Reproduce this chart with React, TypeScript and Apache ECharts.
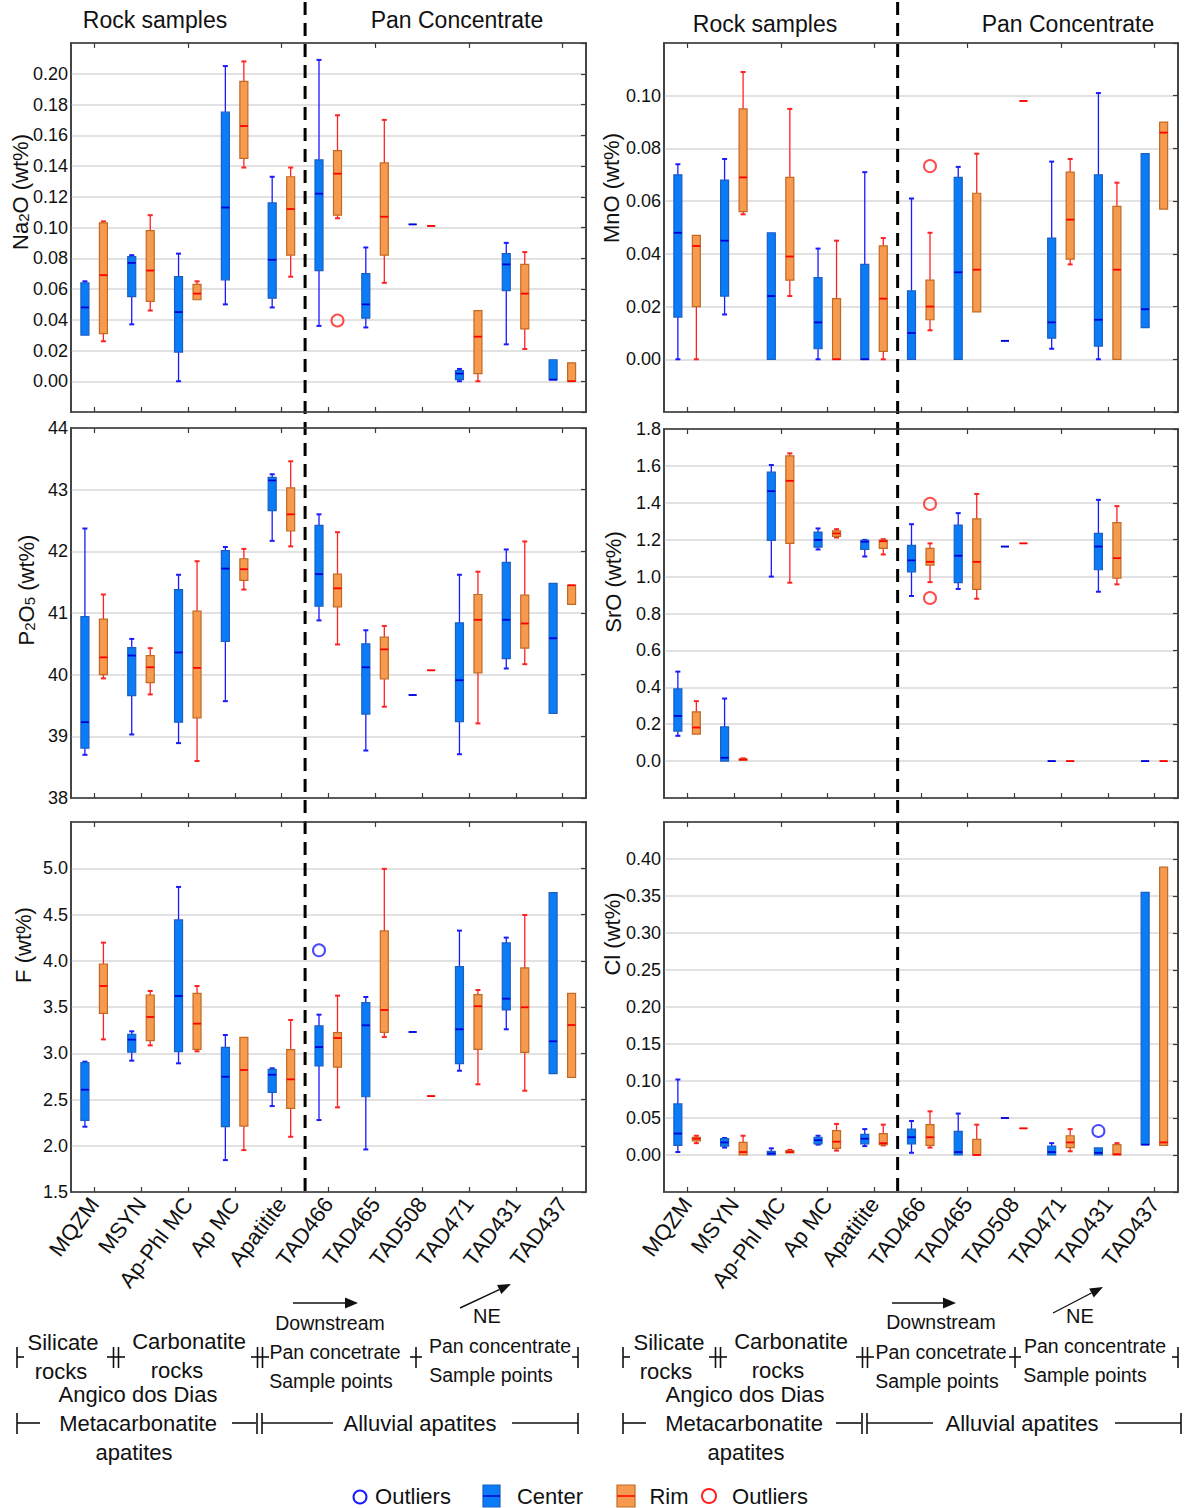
import React, { useEffect, useRef } from "react";
import * as echarts from "echarts";

const FONT = "'Liberation Sans', Arial, Helvetica, sans-serif";

const categories = ["MQZM", "MSYN", "Ap-Phl MC", "Ap MC", "Apatitite", "TAD466", "TAD465", "TAD508", "TAD471", "TAD431", "TAD437"];

// each entry: [min, Q1, median, Q3, max]
const na2oCenter = [
  [0.030, 0.030, 0.048, 0.064, 0.065], [0.037, 0.055, 0.077, 0.081, 0.082], [0.000, 0.019, 0.045, 0.068, 0.083],
  [0.050, 0.066, 0.113, 0.175, 0.205], [0.048, 0.054, 0.079, 0.116, 0.133], [0.036, 0.072, 0.122, 0.144, 0.209],
  [0.035, 0.041, 0.050, 0.070, 0.087], [0.102, 0.102, 0.102, 0.102, 0.102], [0.000, 0.001, 0.005, 0.007, 0.008],
  [0.024, 0.059, 0.076, 0.083, 0.090], [0.001, 0.001, 0.001, 0.014, 0.014],
];
const na2oRim = [
  [0.026, 0.031, 0.069, 0.103, 0.104], [0.046, 0.052, 0.072, 0.098, 0.108], [0.053, 0.053, 0.057, 0.063, 0.065],
  [0.139, 0.145, 0.166, 0.195, 0.208], [0.068, 0.082, 0.112, 0.133, 0.139], [0.106, 0.108, 0.135, 0.150, 0.173],
  [0.064, 0.082, 0.107, 0.142, 0.170], [0.101, 0.101, 0.101, 0.101, 0.101], [0.000, 0.005, 0.029, 0.046, 0.046],
  [0.021, 0.034, 0.057, 0.076, 0.084], [0.000, 0.000, 0.000, 0.012, 0.012],
];
const na2oCenterOutliers: [string, number][] = [];
const na2oRimOutliers: [string, number][] = [["TAD466", 0.0395]];

const mnoCenter = [
  [0.000, 0.016, 0.048, 0.070, 0.074], [0.017, 0.024, 0.045, 0.068, 0.076], [0.000, 0.000, 0.024, 0.048, 0.048],
  [0.000, 0.004, 0.014, 0.031, 0.042], [0.000, 0.000, 0.000, 0.036, 0.071], [0.000, 0.000, 0.010, 0.026, 0.061],
  [0.000, 0.000, 0.033, 0.069, 0.073], [0.007, 0.007, 0.007, 0.007, 0.007], [0.004, 0.008, 0.014, 0.046, 0.075],
  [0.000, 0.005, 0.015, 0.070, 0.101], [0.012, 0.012, 0.019, 0.078, 0.078],
];
const mnoRim = [
  [0.000, 0.020, 0.043, 0.047, 0.047], [0.055, 0.056, 0.069, 0.095, 0.109], [0.024, 0.030, 0.039, 0.069, 0.095],
  [0.000, 0.000, 0.000, 0.023, 0.045], [0.000, 0.003, 0.023, 0.043, 0.046], [0.011, 0.015, 0.020, 0.030, 0.048],
  [0.018, 0.018, 0.034, 0.063, 0.078], [0.098, 0.098, 0.098, 0.098, 0.098], [0.036, 0.038, 0.053, 0.071, 0.076],
  [0.000, 0.000, 0.034, 0.058, 0.067], [0.057, 0.057, 0.086, 0.090, 0.090],
];
const mnoCenterOutliers: [string, number][] = [];
const mnoRimOutliers: [string, number][] = [["TAD466", 0.0733]];

const p2o5Center = [
  [38.70, 38.81, 39.23, 40.94, 42.37], [39.03, 39.66, 40.31, 40.44, 40.58], [38.89, 39.23, 40.36, 41.38, 41.62],
  [39.57, 40.54, 41.72, 42.01, 42.07], [42.17, 42.66, 43.15, 43.20, 43.25], [40.88, 41.11, 41.63, 42.42, 42.60],
  [38.77, 39.36, 40.12, 40.50, 40.72], [39.67, 39.67, 39.67, 39.67, 39.67], [38.71, 39.24, 39.91, 40.84, 41.62],
  [40.10, 40.26, 40.89, 41.82, 42.03], [39.37, 39.37, 40.59, 41.48, 41.48],
];
const p2o5Rim = [
  [39.94, 40.00, 40.28, 40.90, 41.30], [39.68, 39.87, 40.12, 40.31, 40.43], [38.60, 39.30, 40.11, 41.03, 41.84],
  [41.38, 41.53, 41.71, 41.88, 42.04], [42.08, 42.33, 42.60, 43.03, 43.46], [40.49, 41.10, 41.40, 41.63, 42.31],
  [39.48, 39.93, 40.41, 40.61, 40.79], [40.07, 40.07, 40.07, 40.07, 40.07], [39.21, 40.03, 40.89, 41.30, 41.67],
  [40.17, 40.43, 40.83, 41.29, 42.16], [41.14, 41.14, 41.45, 41.45, 41.45],
];
const p2o5CenterOutliers: [string, number][] = [];
const p2o5RimOutliers: [string, number][] = [];

const sroCenter = [
  [0.137, 0.162, 0.245, 0.391, 0.485], [0.000, 0.000, 0.018, 0.186, 0.339], [1.000, 1.196, 1.463, 1.566, 1.605],
  [1.147, 1.160, 1.199, 1.241, 1.261], [1.109, 1.147, 1.189, 1.196, 1.199], [0.895, 1.025, 1.088, 1.169, 1.284],
  [0.933, 0.967, 1.113, 1.279, 1.344], [1.163, 1.163, 1.163, 1.163, 1.163], [0.000, 0.000, 0.000, 0.000, 0.000],
  [0.918, 1.037, 1.163, 1.234, 1.416], [0.000, 0.000, 0.000, 0.000, 0.000],
];
const sroRim = [
  [0.146, 0.146, 0.182, 0.267, 0.325], [0.003, 0.005, 0.008, 0.012, 0.015], [0.967, 1.180, 1.519, 1.654, 1.668],
  [1.212, 1.218, 1.234, 1.248, 1.257], [1.120, 1.153, 1.192, 1.198, 1.203], [0.970, 1.062, 1.080, 1.153, 1.180],
  [0.880, 0.931, 1.080, 1.313, 1.448], [1.180, 1.180, 1.180, 1.180, 1.180], [0.000, 0.000, 0.000, 0.000, 0.000],
  [0.958, 0.992, 1.100, 1.293, 1.382], [0.000, 0.000, 0.000, 0.000, 0.000],
];
const sroCenterOutliers: [string, number][] = [];
const sroRimOutliers: [string, number][] = [["TAD466", 1.394], ["TAD466", 0.884]];

const fCenter = [
  [2.206, 2.274, 2.606, 2.898, 2.909], [2.920, 3.013, 3.147, 3.204, 3.237], [2.891, 3.017, 3.619, 4.441, 4.798],
  [1.845, 2.206, 2.746, 3.064, 3.197], [2.429, 2.577, 2.768, 2.826, 2.837], [2.278, 2.862, 3.067, 3.295, 3.417],
  [1.960, 2.530, 3.302, 3.547, 3.608], [3.230, 3.230, 3.230, 3.230, 3.230], [2.811, 2.887, 3.259, 3.937, 4.326],
  [3.259, 3.468, 3.590, 4.193, 4.250], [2.779, 2.779, 3.129, 4.737, 4.737],
];
const fRim = [
  [3.150, 3.432, 3.727, 3.965, 4.196], [3.085, 3.136, 3.392, 3.630, 3.673], [3.021, 3.042, 3.320, 3.648, 3.727],
  [1.953, 2.213, 2.819, 3.172, 3.172], [2.097, 2.404, 2.718, 3.039, 3.360], [2.415, 2.851, 3.165, 3.222, 3.623],
  [3.176, 3.226, 3.468, 4.322, 4.993], [2.537, 2.537, 2.537, 2.537, 2.537], [2.664, 3.042, 3.508, 3.634, 3.684],
  [2.595, 3.010, 3.497, 3.922, 4.495], [2.739, 2.739, 3.305, 3.648, 3.648],
];
const fCenterOutliers: [string, number][] = [["TAD466", 4.113]];
const fRimOutliers: [string, number][] = [];

const clCenter = [
  [0.004, 0.013, 0.029, 0.069, 0.102], [0.010, 0.012, 0.017, 0.022, 0.023], [0.000, 0.000, 0.002, 0.005, 0.009],
  [0.014, 0.015, 0.020, 0.024, 0.026], [0.012, 0.015, 0.022, 0.028, 0.035], [0.003, 0.015, 0.024, 0.035, 0.046],
  [0.000, 0.000, 0.004, 0.032, 0.056], [0.050, 0.050, 0.050, 0.050, 0.050], [0.000, 0.000, 0.004, 0.012, 0.016],
  [0.000, 0.000, 0.003, 0.0095, 0.0095], [0.014, 0.014, 0.014, 0.355, 0.355],
];
const clRim = [
  [0.016, 0.019, 0.022, 0.024, 0.026], [0.000, 0.000, 0.004, 0.017, 0.026], [0.003, 0.003, 0.004, 0.006, 0.007],
  [0.006, 0.009, 0.018, 0.033, 0.042], [0.013, 0.014, 0.016, 0.029, 0.041], [0.010, 0.013, 0.024, 0.041, 0.059],
  [0.000, 0.000, 0.000, 0.021, 0.041], [0.036, 0.036, 0.036, 0.036, 0.036], [0.005, 0.010, 0.017, 0.026, 0.035],
  [0.000, 0.000, 0.001, 0.014, 0.016], [0.013, 0.013, 0.017, 0.389, 0.389],
];
const clCenterOutliers: [string, number][] = [["TAD431", 0.0325]];
const clRimOutliers: [string, number][] = [];

// y-axis: [min, max, step, first labelled, last labelled, decimals]
const na2oTicks = [-0.02, 0.22, 0.02, 0.0, 0.2, 2];
const mnoTicks = [-0.02, 0.12, 0.02, 0.0, 0.1, 2];
const p2o5Ticks = [38, 44, 1, 38, 44, 0];
const sroTicks = [-0.2, 1.8, 0.2, 0.0, 1.8, 1];
const fTicks = [1.5, 5.5, 0.5, 1.5, 5.0, 1];
const clTicks = [-0.05, 0.45, 0.05, 0.0, 0.4, 2];

const BLUE_FILL = "#0a7cf5";
const BLUE_BORDER = "#1c5fc4";
const BLUE_LINE = "#1a1aff";
const ORANGE_FILL = "#f59a4e";
const ORANGE_BORDER = "#c26a22";
const RED_LINE = "#ff2222";
const TEXT = "#111111";

function boxRenderer(offset: number, fill: string, border: string, whisker: string, median: string) {
  return function (_params: any, api: any) {
    const c = api.value(0);
    const lo = api.coord([c, api.value(1)]);
    const q1 = api.coord([c, api.value(2)]);
    const md = api.coord([c, api.value(3)]);
    const q3 = api.coord([c, api.value(4)]);
    const hi = api.coord([c, api.value(5)]);
    const x = lo[0] + offset;
    const w = 8;
    const cap = 2.5;
    const ws = { stroke: whisker, lineWidth: 1.3 };
    const children: any[] = [];
    if (hi[1] < q3[1] - 0.5) {
      children.push({ type: "line", shape: { x1: x, y1: hi[1], x2: x, y2: q3[1] }, style: ws });
      children.push({ type: "line", shape: { x1: x - cap, y1: hi[1], x2: x + cap, y2: hi[1] }, style: { stroke: whisker, lineWidth: 2 } });
    }
    if (lo[1] > q1[1] + 0.5) {
      children.push({ type: "line", shape: { x1: x, y1: q1[1], x2: x, y2: lo[1] }, style: ws });
      children.push({ type: "line", shape: { x1: x - cap, y1: lo[1], x2: x + cap, y2: lo[1] }, style: { stroke: whisker, lineWidth: 2 } });
    }
    children.push({
      type: "rect",
      shape: { x: x - w / 2, y: q3[1], width: w, height: Math.max(q1[1] - q3[1], 0) },
      style: { fill, stroke: border, lineWidth: 1.2 },
    });
    children.push({ type: "line", shape: { x1: x - w / 2, y1: md[1], x2: x + w / 2, y2: md[1] }, style: { stroke: median, lineWidth: 1.8 } });
    return { type: "group", children };
  };
}

const panels = [
  { grid: { left: 71, top: 43, width: 515, height: 369 }, ticks: na2oTicks, center: na2oCenter, rim: na2oRim, cOut: na2oCenterOutliers, rOut: na2oRimOutliers, labels: false },
  { grid: { left: 664, top: 43, width: 514, height: 369 }, ticks: mnoTicks, center: mnoCenter, rim: mnoRim, cOut: mnoCenterOutliers, rOut: mnoRimOutliers, labels: false },
  { grid: { left: 71, top: 428, width: 515, height: 370 }, ticks: p2o5Ticks, center: p2o5Center, rim: p2o5Rim, cOut: p2o5CenterOutliers, rOut: p2o5RimOutliers, labels: false },
  { grid: { left: 664, top: 429, width: 514, height: 369 }, ticks: sroTicks, center: sroCenter, rim: sroRim, cOut: sroCenterOutliers, rOut: sroRimOutliers, labels: false },
  { grid: { left: 71, top: 822, width: 515, height: 370 }, ticks: fTicks, center: fCenter, rim: fRim, cOut: fCenterOutliers, rOut: fRimOutliers, labels: true },
  { grid: { left: 664, top: 822, width: 514, height: 370 }, ticks: clTicks, center: clCenter, rim: clRim, cOut: clCenterOutliers, rOut: clRimOutliers, labels: true },
];

function txt(x: number, y: number, text: string, size = 22, extra: any = {}) {
  return {
    type: "text",
    x,
    y,
    silent: true,
    ...extra,
    style: {
      text,
      fill: TEXT,
      fontSize: size,
      fontFamily: FONT,
      align: "center",
      verticalAlign: "middle",
      textAlign: "center",
      textVerticalAlign: "middle",
      ...(extra.style || {}),
    },
  };
}
function ln(x1: number, y1: number, x2: number, y2: number, w = 1.6) {
  return { type: "line", silent: true, shape: { x1, y1, x2, y2 }, style: { stroke: TEXT, lineWidth: w } };
}
function poly(points: number[][]) {
  return { type: "polygon", silent: true, shape: { points }, style: { fill: TEXT } };
}
function dbl(x: number, y: number) {
  return [ln(x - 2.5, y - 10, x - 2.5, y + 11), ln(x + 2.5, y - 10, x + 2.5, y + 11), ln(x - 9, y, x + 9, y)];
}

const SUB_RICH = { s: { fontSize: 15, fontFamily: FONT, fill: TEXT, verticalAlign: "bottom", lineHeight: 15 } };

function buildGraphics(xL: number, xR: number) {
  const g: any[] = [];
  g.push({ type: "line", silent: true, shape: { x1: xL, y1: 2, x2: xL, y2: 1192 }, style: { stroke: "#000", lineWidth: 3, lineDash: [13, 8] } });
  g.push({ type: "line", silent: true, shape: { x1: xR, y1: 2, x2: xR, y2: 1192 }, style: { stroke: "#000", lineWidth: 3, lineDash: [13, 8] } });
  g.push(txt(155, 20, "Rock samples", 23), txt(457, 20, "Pan Concentrate", 23), txt(765, 24, "Rock samples", 23), txt(1068, 24, "Pan Concentrate", 23));
  const rot = { rotation: Math.PI / 2 };
  g.push(txt(20, 192, "Na{s|2}O (wt%)", 22, { ...rot, style: { rich: SUB_RICH } }));
  g.push(txt(611, 188, "MnO (wt%)", 22, rot));
  g.push(txt(26, 590, "P{s|2}O{s|5} (wt%)", 22, { ...rot, style: { rich: SUB_RICH } }));
  g.push(txt(613, 582, "SrO (wt%)", 22, rot));
  g.push(txt(23, 945, "F (wt%)", 22, rot));
  g.push(txt(612, 934, "Cl (wt%)", 22, rot));

  const block = (p: any) => {
    g.push(ln(p.ds[0], 1303, p.ds[1] - 8, 1303, 1.6));
    g.push(poly([[p.ds[1], 1303], [p.ds[1] - 13, 1297.5], [p.ds[1] - 13, 1308.5]]));
    g.push(txt(p.dsT[0], p.dsT[1], "Downstream", 19.5));
    const [ax1, ay1, ax2, ay2] = p.ne;
    const ang = Math.atan2(ay2 - ay1, ax2 - ax1);
    const bx = ax2 - 13 * Math.cos(ang), by = ay2 - 13 * Math.sin(ang);
    g.push(ln(ax1, ay1, bx, by, 1.4));
    g.push(poly([[ax2, ay2], [bx + 5 * Math.sin(ang), by - 5 * Math.cos(ang)], [bx - 5 * Math.sin(ang), by + 5 * Math.cos(ang)]]));
    g.push(txt(p.neT[0], p.neT[1], "NE", 20));
    const y1 = 1357;
    g.push(ln(p.l, y1 - 10, p.l, y1 + 11), ln(p.l, y1, p.l + 7, y1));
    g.push(txt(p.sil[0], 1342, "Silicate"), txt(p.sil[1], 1371, "rocks"));
    g.push(...dbl(p.d1, y1));
    g.push(txt(p.carb[0], 1341, "Carbonatite"), txt(p.carb[1], 1370, "rocks"));
    g.push(...dbl(p.d2, y1));
    g.push(txt(p.pc1[0], 1352, "Pan concetrate", 19.5), txt(p.pc1[1], 1381, "Sample points", 19.5));
    g.push(ln(p.plus, y1 - 10, p.plus, y1 + 11), ln(p.plus - 6, y1, p.plus + 6, y1));
    g.push(txt(p.pc2[0], 1346, "Pan concentrate", 19.5), txt(p.pc2[1], 1375, "Sample points", 19.5));
    g.push(ln(p.r, y1 - 10, p.r, y1 + 11), ln(p.r - 6, y1, p.r, y1));
    const y2 = 1423;
    g.push(ln(p.l, y2 - 10, p.l, y2 + 11), ln(p.l, y2, p.l + 23, y2));
    g.push(txt(p.ang[0], 1394, "Angico dos Dias"), txt(p.ang[1], 1423, "Metacarbonatite"), txt(p.ang[2], 1452, "apatites"));
    g.push(ln(p.m1[0], y2, p.m1[1], y2));
    g.push(ln(p.m1[1] + 1, y2 - 10, p.m1[1] + 1, y2 + 11), ln(p.m1[1] + 6, y2 - 10, p.m1[1] + 6, y2 + 11));
    g.push(ln(p.m1[1] + 6, y2, p.m2, y2));
    g.push(txt(p.all, 1423, "Alluvial apatites"));
    g.push(ln(p.m3, y2, p.r2, y2), ln(p.r2, y2 - 10, p.r2, y2 + 11));
  };
  block({
    ds: [293, 358], dsT: [330, 1323], ne: [460, 1308, 511, 1284], neT: [487, 1316],
    l: 17, sil: [63, 61], d1: 116, carb: [189, 177], d2: 260, pc1: [335, 331], plus: 416, pc2: [500, 491], r: 578,
    ang: [138, 138, 134], m1: [232, 256], m2: 333, all: 420, m3: 512, r2: 578,
  });
  block({
    ds: [892, 956], dsT: [941, 1322], ne: [1053, 1313, 1103, 1287], neT: [1080, 1316],
    l: 623, sil: [669, 666], d1: 718, carb: [791, 778], d2: 865, pc1: [941, 937], plus: 1015, pc2: [1095, 1085], r: 1178,
    ang: [745, 744, 746], m1: [836, 861], m2: 933, all: 1022, m3: 1115, r2: 1181,
  });

  g.push({ type: "circle", silent: true, shape: { cx: 360, cy: 1497, r: 6.5 }, style: { fill: "none", stroke: "#1a1aff", lineWidth: 2 } });
  g.push(txt(413, 1496, "Outliers"));
  g.push({ type: "rect", silent: true, shape: { x: 483, y: 1485, width: 17, height: 22 }, style: { fill: BLUE_FILL, stroke: BLUE_BORDER, lineWidth: 1.2 } });
  g.push({ type: "line", silent: true, shape: { x1: 483, y1: 1496, x2: 500, y2: 1496 }, style: { stroke: "#0000cc", lineWidth: 1.5 } });
  g.push(txt(550, 1496, "Center"));
  g.push({ type: "rect", silent: true, shape: { x: 617, y: 1485, width: 18, height: 22 }, style: { fill: ORANGE_FILL, stroke: ORANGE_BORDER, lineWidth: 1.2 } });
  g.push({ type: "line", silent: true, shape: { x1: 617, y1: 1496, x2: 635, y2: 1496 }, style: { stroke: "#ff0000", lineWidth: 1.5 } });
  g.push(txt(669, 1496, "Rim"));
  g.push({ type: "circle", silent: true, shape: { cx: 709, cy: 1496, r: 7 }, style: { fill: "none", stroke: "#ff2020", lineWidth: 2 } });
  g.push(txt(770, 1496, "Outliers"));
  return g;
}

function buildOption() {
  const grid: any[] = [];
  const xAxis: any[] = [];
  const yAxis: any[] = [];
  const series: any[] = [];
  panels.forEach((p, i) => {
    grid.push({ ...p.grid, show: true, borderColor: "#3a3a3a", borderWidth: 1.5, backgroundColor: "#fff" });
    const [mn, mx, step, lo, hi, dec] = p.ticks;
    xAxis.push({
      type: "category", gridIndex: i, data: categories, position: "bottom", boundaryGap: true,
      axisLine: { show: true, onZero: false, lineStyle: { color: "#3a3a3a", width: 1.5 } },
      axisTick: { show: true, inside: true, alignWithLabel: true, length: 5, lineStyle: { color: "#3a3a3a", width: 1.2 } },
      axisLabel: { show: p.labels, interval: 0, rotate: 53, margin: 8, fontSize: 22, fontFamily: FONT, color: TEXT },
      splitLine: { show: false },
    });
    xAxis.push({
      type: "category", gridIndex: i, data: categories, position: "top", boundaryGap: true,
      axisLine: { show: true, onZero: false, lineStyle: { color: "#3a3a3a", width: 1.5 } },
      axisTick: { show: true, inside: true, alignWithLabel: true, length: 5, lineStyle: { color: "#3a3a3a", width: 1.2 } },
      axisLabel: { show: false }, splitLine: { show: false },
    });
    const eps = step / 100;
    yAxis.push({
      type: "value", gridIndex: i, min: mn, max: mx, interval: step, position: "left",
      axisLine: { show: true, onZero: false, lineStyle: { color: "#3a3a3a", width: 1.5 } },
      axisTick: { show: false },
      axisLabel: {
        margin: 3, fontSize: 18, fontFamily: FONT, color: TEXT,
        formatter: (v: number) => (v < lo - eps || v > hi + eps ? "" : v.toFixed(dec)),
      },
      splitLine: { show: true, lineStyle: { color: "#d9d9d9", width: 1.5 } },
    });
    yAxis.push({
      type: "value", gridIndex: i, min: mn, max: mx, interval: step, position: "right",
      axisLine: { show: true, onZero: false, lineStyle: { color: "#3a3a3a", width: 1.5 } },
      axisTick: { show: true, inside: true, length: 5, lineStyle: { color: "#3a3a3a", width: 1.2 } },
      axisLabel: { show: false }, splitLine: { show: false },
    });
    const xi = i * 2;
    const yi = i * 2;
    series.push({
      name: "Center", type: "custom", xAxisIndex: xi, yAxisIndex: yi,
      renderItem: boxRenderer(-9.5, BLUE_FILL, BLUE_BORDER, BLUE_LINE, "#0000dd"),
      encode: { x: 0, y: [1, 2, 3, 4, 5] },
      data: p.center.map((d, k) => [k, ...d]),
    });
    series.push({
      name: "Rim", type: "custom", xAxisIndex: xi, yAxisIndex: yi,
      renderItem: boxRenderer(9, ORANGE_FILL, ORANGE_BORDER, RED_LINE, "#ff0000"),
      encode: { x: 0, y: [1, 2, 3, 4, 5] },
      data: p.rim.map((d, k) => [k, ...d]),
    });
    if (p.cOut.length) {
      series.push({
        name: "Center outliers", type: "scatter", xAxisIndex: xi, yAxisIndex: yi, symbol: "circle", symbolSize: 12,
        symbolOffset: [-9.5, 0], itemStyle: { color: "rgba(0,0,0,0)", borderColor: "#1a1aff", borderWidth: 2 },
        data: p.cOut,
      });
    }
    if (p.rOut.length) {
      series.push({
        name: "Rim outliers", type: "scatter", xAxisIndex: xi, yAxisIndex: yi, symbol: "circle", symbolSize: 12,
        symbolOffset: [9, 0], itemStyle: { color: "rgba(0,0,0,0)", borderColor: "#ff2020", borderWidth: 2 },
        data: p.rOut,
      });
    }
  });
  return { animation: false, backgroundColor: "#ffffff", textStyle: { fontFamily: FONT }, grid, xAxis, yAxis, series };
}

export default function App() {
  const ref = useRef<HTMLDivElement>(null);
  useEffect(() => {
    if (!ref.current) return;
    const chart = echarts.init(ref.current, undefined, { renderer: "svg" });
    chart.setOption(buildOption() as any);
    const a = chart.convertToPixel({ xAxisIndex: 0 } as any, "Apatitite") as unknown as number;
    const b = chart.convertToPixel({ xAxisIndex: 0 } as any, "TAD466") as unknown as number;
    const c = chart.convertToPixel({ xAxisIndex: 2 } as any, "Apatitite") as unknown as number;
    const d = chart.convertToPixel({ xAxisIndex: 2 } as any, "TAD466") as unknown as number;
    const xL = Number.isFinite(a) && Number.isFinite(b) ? (a + b) / 2 : 305;
    const xR = Number.isFinite(c) && Number.isFinite(d) ? (c + d) / 2 : 897;
    chart.setOption({ graphic: { elements: buildGraphics(xL, xR) } } as any);
    return () => chart.dispose();
  }, []);
  return (
    <div
      ref={ref}
      style={{ position: "absolute", left: 0, top: 0, width: 1186, height: 1508, background: "#fff" }}
    />
  );
}
